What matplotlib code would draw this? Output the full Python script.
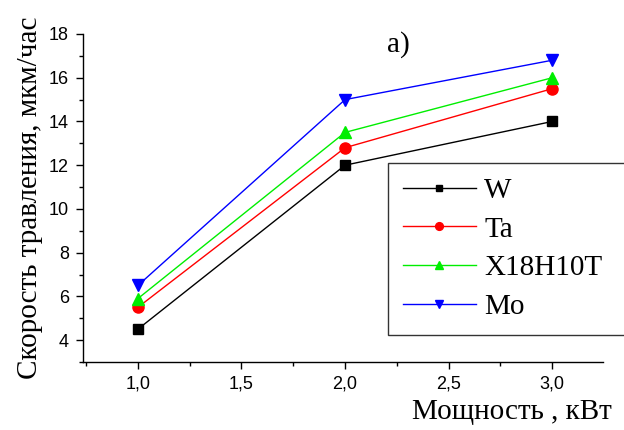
import matplotlib
matplotlib.use("Agg")
import matplotlib.pyplot as plt
from matplotlib.ticker import MultipleLocator, FuncFormatter

# power, kW
power = [1.0, 2.0, 3.0]

# etch rate, um/h
rate_w = [4.5, 12.0, 14.0]
rate_ta = [5.5, 12.8, 15.5]
rate_x18 = [5.9, 13.5, 16.0]
rate_mo = [6.5, 15.0, 16.8]

labels = ["W", "Ta", "X18H10T", "Mo"]

serif = ["Liberation Serif", "DejaVu Serif"]
sans = ["Liberation Sans", "DejaVu Sans"]

fig = plt.figure(figsize=(6.24, 4.30), dpi=100)
ax = fig.add_axes([83 / 624, 68 / 430, 520 / 624, 328 / 430])

ax.plot(power, rate_w, color="black", lw=1, marker="s", ms=7, label=labels[0])
ax.plot(power, rate_ta, color="red", lw=1, marker="o", ms=8, label=labels[1])
ax.plot(power, rate_x18, color="#00ee00", lw=1, marker="^", ms=8, label=labels[2])
ax.plot(power, rate_mo, color="blue", lw=1, marker="v", ms=8, label=labels[3])

ax.set_xlim(0.735, 3.245)
ax.set_ylim(3.0, 18.0)

ax.spines["top"].set_visible(False)
ax.spines["right"].set_visible(False)
for s in ("left", "bottom"):
    ax.spines[s].set_linewidth(1.0)

ax.xaxis.set_major_locator(MultipleLocator(0.5))
ax.xaxis.set_minor_locator(MultipleLocator(0.25))
ax.yaxis.set_minor_locator(MultipleLocator(1))
ax.set_yticks([4, 6, 8, 10, 12, 14, 16, 18])
ax.xaxis.set_major_formatter(FuncFormatter(lambda v, p: f"{v:.1f}".replace(".", ",")))

ax.tick_params(which="major", direction="out", length=5, width=1, pad=5)
ax.tick_params(which="minor", direction="out", length=3, width=1)
for lab in ax.get_xticklabels() + ax.get_yticklabels():
    lab.set_family(sans)
    lab.set_fontsize(13)

ax.set_ylabel("Скорость травления, мкм/час", family=serif, fontsize=21, labelpad=4)
fig.text(612 / 624, 18 / 430, "Мощность , кВт", family=serif,
         fontsize=21, ha="right", va="center")
fig.text(398 / 624, 1 - 45 / 430, "a)", family=serif, fontsize=21,
         ha="center", va="center")

leg = ax.legend(loc="upper left", bbox_to_anchor=(388 / 624, 96 / 430, 240 / 624, 171 / 430),
                bbox_transform=fig.transFigure, mode="expand",
                prop={"family": serif, "size": 21}, markerscale=0.7,
                frameon=True, fancybox=False, handlelength=2.5, handletextpad=0.3,
                labelspacing=0.42, borderpad=0.5, borderaxespad=0)
leg.get_frame().set_edgecolor("black")
leg.get_frame().set_linewidth(1.0)

fig.savefig("out.png", dpi=100)
